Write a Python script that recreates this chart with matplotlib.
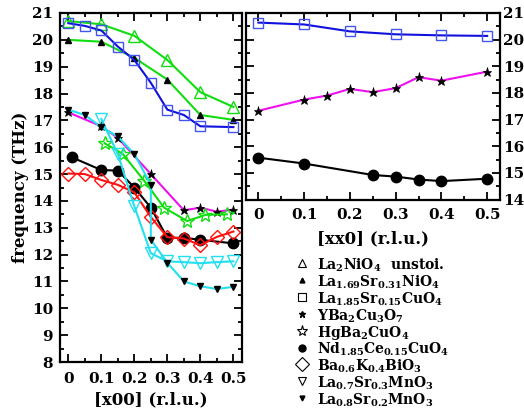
import matplotlib
matplotlib.use("Agg")
import matplotlib.pyplot as plt
from matplotlib.lines import Line2D
from matplotlib.ticker import MultipleLocator

plt.rcParams['font.family'] = ['DejaVu Serif']
plt.rcParams['font.weight'] = 'bold'
plt.rcParams['mathtext.fontset'] = 'custom'
plt.rcParams['mathtext.rm'] = 'DejaVu Serif:bold'
plt.rcParams['mathtext.it'] = 'DejaVu Serif:bold'
plt.rcParams['mathtext.bf'] = 'DejaVu Serif:bold'
plt.rcParams['mathtext.default'] = 'rm'

# ---------------- data: left panel [x00] ----------------
la2nio4_x = [0.0, 0.1, 0.2, 0.3, 0.4, 0.5]
la2nio4_y = [20.7, 20.58, 20.15, 19.25, 18.05, 17.5]

la169_x = [0.0, 0.1, 0.2, 0.3, 0.4, 0.5]
la169_y = [20.0, 19.93, 19.33, 18.52, 17.2, 17.02]

lsco_x = [0.0, 0.05, 0.1, 0.15, 0.2, 0.25, 0.3, 0.35, 0.4, 0.5]
lsco_y = [20.62, 20.52, 20.35, 19.75, 19.25, 18.4, 17.4, 17.2, 16.78, 16.75]

ybco_x = [0.0, 0.1, 0.15, 0.25, 0.35, 0.4, 0.45, 0.5]
ybco_y = [17.3, 16.78, 16.35, 15.0, 13.65, 13.75, 13.6, 13.68]

hg_x = [0.11, 0.165, 0.23, 0.29, 0.36, 0.415, 0.48]
hg_y = [16.15, 15.75, 14.75, 13.75, 13.25, 13.48, 13.5]

ncco_x = [0.01, 0.1, 0.15, 0.2, 0.25, 0.3, 0.35, 0.4, 0.5]
ncco_y = [15.63, 15.15, 15.13, 14.5, 13.75, 12.62, 12.63, 12.55, 12.42]

bkbo_x = [0.0, 0.05, 0.1, 0.15, 0.2, 0.25, 0.3, 0.35, 0.4, 0.45, 0.5]
bkbo_y = [15.02, 15.0, 14.78, 14.6, 14.32, 13.4, 12.65, 12.6, 12.35, 12.66, 12.86]

lsmo3_x = [0.1, 0.15, 0.2, 0.25, 0.3, 0.35, 0.4, 0.45, 0.5]
lsmo3_y = [17.05, 15.75, 13.8, 12.05, 11.75, 11.72, 11.68, 11.72, 11.75]

lsmo2_x = [0.0, 0.05, 0.1, 0.15, 0.2, 0.25, 0.25, 0.3, 0.35, 0.4, 0.45, 0.5]
lsmo2_y = [17.4, 17.2, 16.75, 16.4, 15.75, 14.6, 12.55, 11.7, 11.0, 10.82, 10.72, 10.8]

# ---------------- data: right panel [xx0] ----------------
r_lsco_x = [0.0, 0.1, 0.2, 0.3, 0.4, 0.5]
r_lsco_y = [20.64, 20.57, 20.31, 20.2, 20.16, 20.14]

r_ybco_x = [0.0, 0.1, 0.15, 0.2, 0.25, 0.3, 0.35, 0.4, 0.5]
r_ybco_y = [17.33, 17.75, 17.9, 18.15, 18.03, 18.18, 18.59, 18.46, 18.8]

r_ncco_x = [0.0, 0.1, 0.25, 0.3, 0.35, 0.4, 0.5]
r_ncco_y = [15.57, 15.35, 14.92, 14.86, 14.75, 14.69, 14.78]

xticks = [0, 0.1, 0.2, 0.3, 0.4, 0.5]
xtick_labels = ['0', '0.1', '0.2', '0.3', '0.4', '0.5']
left_yticks = list(range(8, 22))
right_yticks = list(range(14, 22))

legend_labels = [
    r'La$_{2}$NiO$_{4}$  unstoi.',
    r'La$_{1.69}$Sr$_{0.31}$NiO$_{4}$',
    r'La$_{1.85}$Sr$_{0.15}$CuO$_{4}$',
    r'YBa$_{2}$Cu$_{3}$O$_{7}$',
    r'HgBa$_{2}$CuO$_{4}$',
    r'Nd$_{1.85}$Ce$_{0.15}$CuO$_{4}$',
    r'Ba$_{0.6}$K$_{0.4}$BiO$_{3}$',
    r'La$_{0.7}$Sr$_{0.3}$MnO$_{3}$',
    r'La$_{0.8}$Sr$_{0.2}$MnO$_{3}$',
]

GREEN = '#11dd11'
BLUE = '#1111dd'
BLUE_M = '#4455ee'
MAG = '#ee11ee'
CYAN = '#22e0f0'
RED = '#ff1111'

W, H = 524, 417
fig = plt.figure(figsize=(W / 100, H / 100), dpi=100)

def px_axes(l, t, r, b):
    return fig.add_axes([l / W, 1 - b / H, (r - l) / W, (b - t) / H])

axL = px_axes(60, 13, 242, 362)
axR = px_axes(246, 13, 500, 199.5)

lw = 1.5
# left panel
axL.plot(la2nio4_x, la2nio4_y, color=GREEN, lw=lw, marker='^', ms=8.5, mfc='none', mec=GREEN, mew=1.0)
axL.plot(la169_x, la169_y, color=GREEN, lw=lw, marker='^', ms=4.5, mfc='black', mec='black')
axL.plot(lsco_x, lsco_y, color=BLUE, lw=lw, marker='s', ms=7.5, mfc='none', mec=BLUE_M, mew=1.0)
axL.plot(ybco_x, ybco_y, color=MAG, lw=lw, marker='*', ms=6.5, mfc='black', mec='black', mew=0.5)
axL.plot(hg_x, hg_y, color=GREEN, lw=lw, marker='*', ms=10, mfc='none', mec=GREEN, mew=1.0)
axL.plot(ncco_x, ncco_y, color='black', lw=lw, marker='o', ms=7.5, mfc='black', mec='black')
axL.plot(bkbo_x, bkbo_y, color=RED, lw=lw, marker='D', ms=7.5, mfc='none', mec=RED, mew=1.0)
axL.plot(lsmo3_x, lsmo3_y, color=CYAN, lw=lw, marker='v', ms=8, mfc='none', mec=CYAN, mew=1.0)
axL.plot(lsmo2_x, lsmo2_y, color=CYAN, lw=lw, marker='v', ms=4.5, mfc='black', mec='black')

# right panel
axR.plot(r_lsco_x, r_lsco_y, color=BLUE, lw=lw, marker='s', ms=7.5, mfc='none', mec=BLUE_M, mew=1.0)
axR.plot(r_ybco_x, r_ybco_y, color=MAG, lw=lw, marker='*', ms=6.5, mfc='black', mec='black', mew=0.5)
axR.plot(r_ncco_x, r_ncco_y, color='black', lw=lw, marker='o', ms=7.5, mfc='black', mec='black')

axL.set_xlim(-0.025, 0.526)
axL.set_ylim(8, 21)
axR.set_xlim(-0.027, 0.528)
axR.set_ylim(14, 21)

for ax in (axL, axR):
    for s in ax.spines.values():
        s.set_linewidth(1.6)
    ax.set_xticks(xticks)
    ax.set_xticklabels(xtick_labels)
    ax.xaxis.set_minor_locator(MultipleLocator(0.05))
    ax.yaxis.set_minor_locator(MultipleLocator(0.5))
    ax.tick_params(which='both', direction='in', top=True, right=True, width=1.3, labelsize=11)
    ax.tick_params(which='major', length=6)
    ax.tick_params(which='minor', length=3)

axL.set_yticks(left_yticks)
axL.tick_params(axis='x', pad=7)
axL.tick_params(axis='y', pad=5)
axR.set_yticks(right_yticks)
axR.tick_params(axis='y', labelleft=False, labelright=True, pad=2)
axR.tick_params(axis='x', pad=6)

for ax in (axL, axR):
    for lab in ax.get_xticklabels() + ax.get_yticklabels():
        lab.set_fontweight('bold')

axL.set_xlabel('[x00] (r.l.u.)', fontsize=12, fontweight='bold', labelpad=4)
axR.set_xlabel('[xx0] (r.l.u.)', fontsize=12, fontweight='bold', labelpad=6)
fig.text(21 / W, 1 - 187 / H, 'frequency (THz)', rotation=90, ha='center', va='center',
         fontsize=12, fontweight='bold')

# legend block
leg_markers = [
    dict(marker='^', ms=5.5, mfc='none', mec='black', mew=0.8),
    dict(marker='^', ms=3.5, mfc='black', mec='black'),
    dict(marker='s', ms=5.5, mfc='none', mec='black', mew=0.8),
    dict(marker='*', ms=5, mfc='black', mec='black'),
    dict(marker='*', ms=8, mfc='none', mec='black', mew=0.8),
    dict(marker='o', ms=5, mfc='black', mec='black'),
    dict(marker='D', ms=7, mfc='none', mec='black', mew=0.8),
    dict(marker='v', ms=5.5, mfc='none', mec='black', mew=0.8),
    dict(marker='v', ms=3.5, mfc='black', mec='black'),
]
y0, dy = 263, 16.9
for i, (lab, mk) in enumerate(zip(legend_labels, leg_markers)):
    yy = 1 - (y0 + i * dy) / H
    fig.add_artist(Line2D([302 / W], [yy], transform=fig.transFigure, linestyle='none', **mk))
    fig.text(317 / W, yy, lab, ha='left', va='center_baseline', fontsize=10, fontweight='bold')

fig.savefig('out.png', dpi=100)
